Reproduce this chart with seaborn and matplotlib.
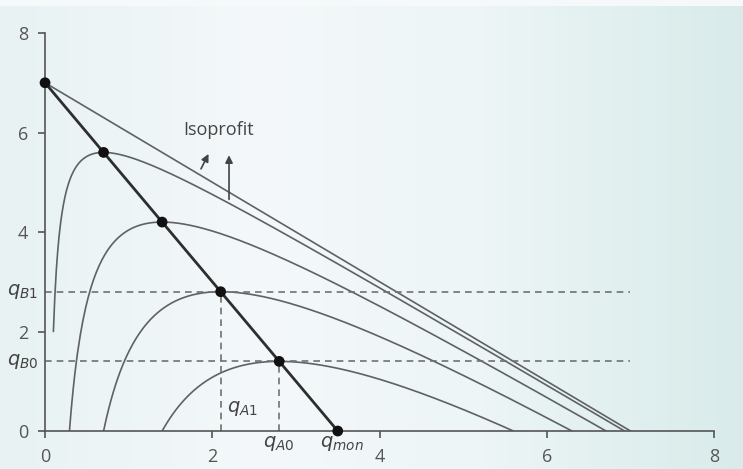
import numpy as np
import pandas as pd
import matplotlib
matplotlib.use("Agg")
import matplotlib.pyplot as plt
import seaborn as sns
from matplotlib.colors import LinearSegmentedColormap

# demand intercept: reaction line hits (0, 7) and (3.5, 0)
intercept = 7.0
q_mon = 3.5

# tangency points of the isoprofit curves on the reaction line
peak_qa = [0.0, 0.7, 1.4, 2.1, 2.8]
peak_qb = [7.0, 5.6, 4.2, 2.8, 1.4]
# profit level of each isoprofit curve (peak_qa ** 2)
profits = [0.0, 0.49, 1.96, 4.41, 7.84]

q_b_levels = [2.8, 1.4]
q_b_labels = ["$q_{B1}$", "$q_{B0}$"]
q_a_levels = [2.1, 2.8]
ticks = [0, 2, 4, 6, 8]

sns.set_style("ticks")
plt.rcParams["font.family"] = ["Open Sans", "DejaVu Sans"]

fig = plt.figure(figsize=(7.43, 4.69), dpi=100)

# soft teal gradient behind everything
bg = fig.add_axes([0, 0, 1, 1], zorder=-1)
cmap = LinearSegmentedColormap.from_list(
    "bg", [(0, "#e8f2f3"), (0.35, "#f4f8fa"), (0.65, "#edf5f6"), (1, "#d8ebea")])
bg.imshow(np.linspace(0, 1, 256)[None, :], aspect="auto", cmap=cmap,
          extent=[0, 1, 0, 1])
bg.axvspan(0, 1, ymin=0.987, ymax=1, color="#f6f9fa", lw=0)
bg.set_axis_off()

ax = fig.add_axes([0.0606, 0.081, 0.9005, 0.8486])
ax.set_facecolor("none")

curve_color = "#5f6163"
for pi in profits:
    if pi == 0:
        qa = np.array([0.0, intercept])
    else:
        lo = (intercept - np.sqrt(intercept ** 2 - 4 * pi)) / 2
        hi = (intercept + np.sqrt(intercept ** 2 - 4 * pi)) / 2
        lo = max(lo, 0.1)
        qa = np.linspace(lo, hi, 400)
    qb = np.where(qa > 0, intercept - qa - pi / np.where(qa > 0, qa, 1), intercept)
    d = pd.DataFrame({"qa": qa, "qb": qb})
    sns.lineplot(data=d, x="qa", y="qb", sort=False, color=curve_color, lw=1.2, ax=ax)

# reaction function
react = pd.DataFrame({"qa": [0.0, q_mon], "qb": [intercept, 0.0]})
sns.lineplot(data=react, x="qa", y="qb", color="#2e2e2e", lw=2, ax=ax)

pts = pd.DataFrame({"qa": peak_qa + [q_mon], "qb": peak_qb + [0.0]})
sns.scatterplot(data=pts, x="qa", y="qb", color="#111111", s=60,
                edgecolor="none", zorder=5, clip_on=False, ax=ax)

# dashed guides
dash = dict(color="#6f7173", lw=1.2, ls=(0, (4, 3)))
for yv in q_b_levels:
    ax.plot([0, intercept], [yv, yv], **dash)
for xv, yv in zip(q_a_levels, q_b_levels):
    ax.plot([xv, xv], [0, yv], **dash)

ax.set_xlim(0, 8)
ax.set_ylim(0, 8)
ax.set_xticks(ticks)
ax.set_yticks(ticks)
ax.set_xlabel("")
ax.set_ylabel("")
sns.despine(ax=ax)
for s in ["left", "bottom"]:
    ax.spines[s].set_color("#555555")
    ax.spines[s].set_linewidth(1.2)
ax.tick_params(colors="#555555", labelsize=13, length=5, width=1.2, pad=7)

txt = dict(color="#444444", fontsize=14)
for yv, lab in zip(q_b_levels, q_b_labels):
    ax.text(-0.08, yv, lab, ha="right", va="center", clip_on=False, **txt)
ax.text(2.17, 0.45, "$q_{A1}$", ha="left", va="center", **txt)
ax.text(2.8, -0.25, "$q_{A0}$", ha="center", va="center", clip_on=False, **txt)
ax.text(3.55, -0.25, "$q_{mon}$", ha="center", va="center", clip_on=False, **txt)

ax.text(2.07, 6.05, "Isoprofit", ha="center", va="center", color="#444444", fontsize=13)
arrow = dict(arrowstyle="-|>", color="#444444", lw=1.2, mutation_scale=11)
ax.annotate("", xy=(1.97, 5.62), xytext=(1.85, 5.22), arrowprops=arrow)
ax.annotate("", xy=(2.2, 5.6), xytext=(2.2, 4.6), arrowprops=arrow)

fig.savefig("out.png", dpi=100)
